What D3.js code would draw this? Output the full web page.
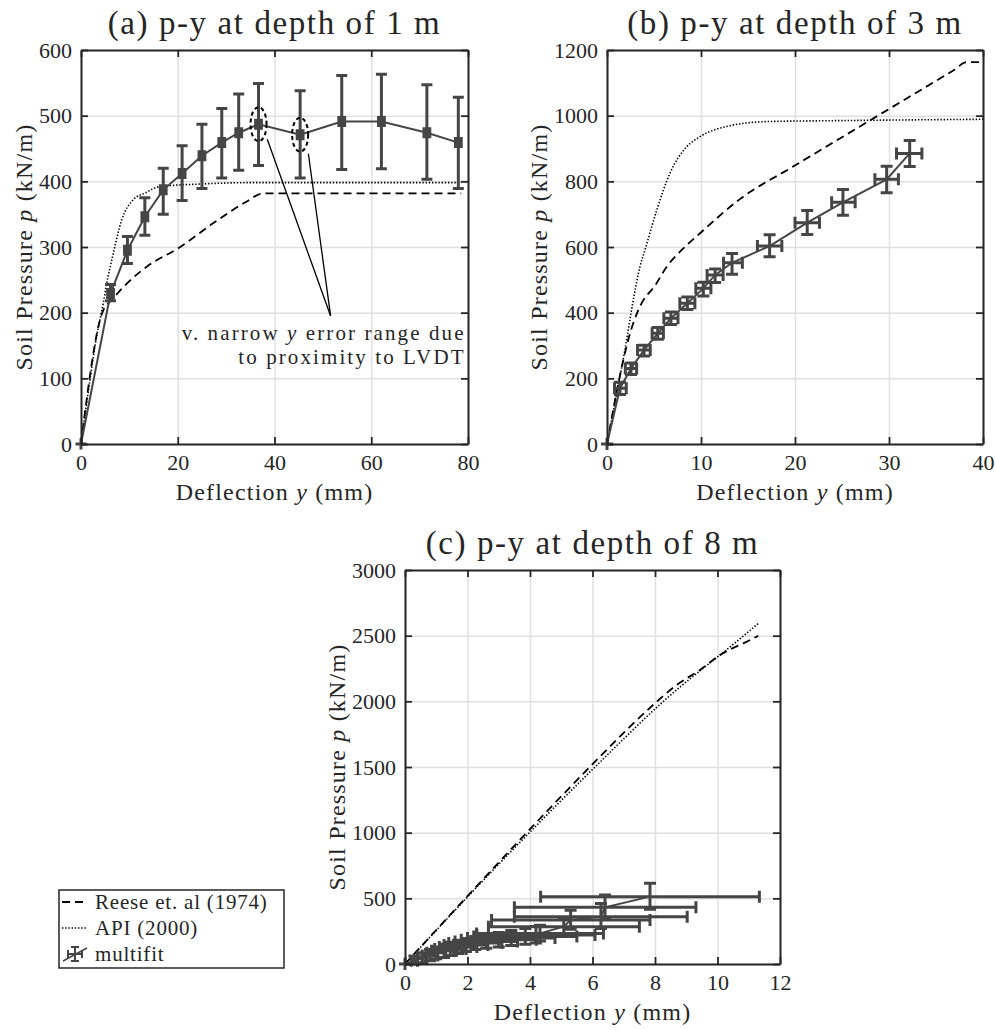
<!DOCTYPE html>
<html>
<head>
<meta charset="utf-8">
<script src="https://cdn.jsdelivr.net/npm/d3@7"></script>
<style>
  body { margin: 0; background: #fff; }
  svg text { font-family: "Liberation Serif", "Times New Roman", serif; fill: #262626; }
</style>
</head>
<body>
<div id="chart"></div>
<script>
// ---- data ----

// (a) depth 1 m
const aXTicks = [0, 20, 40, 60, 80];
const aYTicks = [0, 100, 200, 300, 400, 500, 600];
const aReeseX = [0, 4.4, 6.7, 10, 13.6, 20.5, 27.3, 34.2, 37.7, 78.6];
const aReeseP = [0, 200, 222, 248, 270, 300, 336, 369, 381.7, 381.7];
const aApiX = [0, 1.9, 3.2, 4.6, 5.2, 6.7, 8.4, 10.8, 13.2, 16.3, 25, 35, 78.6];
const aApiP = [0, 100, 163, 214, 240, 291, 341, 372, 382, 392, 396, 398, 398];
const aFitX = [0, 6.1, 9.6, 13.2, 17.0, 20.9, 25.0, 29.1, 32.6, 36.7, 45.3, 53.9, 62.1, 71.5, 78.0];
const aFitP = [0, 229, 295, 346, 387, 412, 439, 459, 474, 487, 471, 491, 491, 474, 459];
const aFitPLo = [0, 218, 275, 318, 350, 371, 389, 405, 417, 424, 405, 418, 419, 403, 389];
const aFitPHi = [0, 243, 316, 375, 420, 454, 487, 511, 533, 549, 538, 561, 563, 547, 528];
const aFitXLo = [0, 5.5, 9.0, 12.6, 16.4, 20.3, 24.4, 28.5, 32.0, 36.1, 44.7, 53.3, 61.5, 70.9, 77.4];
const aFitXHi = [0, 6.7, 10.2, 13.8, 17.6, 21.5, 25.6, 29.7, 33.2, 37.3, 45.9, 54.5, 62.7, 72.1, 78.6];

// (b) depth 3 m
const bXTicks = [0, 10, 20, 30, 40];
const bYTicks = [0, 200, 400, 600, 800, 1000, 1200];
const bReeseX = [0, 1.74, 2.45, 3.33, 5.28, 6.35, 7.95, 9.9, 14.1, 19.8, 24.1, 29.4, 36.8, 38.3, 40];
const bReeseP = [0, 256, 337, 408, 490, 540, 591, 642, 745, 845, 919, 1010, 1137, 1163, 1163];
const bApiX = [0, 1.03, 1.9, 2.8, 3.5, 4.04, 5.3, 6.7, 8.5, 9.9, 12.7, 17, 25, 40];
const bApiP = [0, 154, 286, 439, 540, 591, 713, 825, 906, 936, 967, 982, 985, 989];
const bFitX = [0, 1.38, 2.55, 3.94, 5.4, 6.8, 8.55, 10.25, 11.5, 13.3, 17.3, 21.3, 25.1, 29.75, 32.2];
const bFitP = [0, 170, 230, 286, 337, 383, 429, 474, 515, 552, 603, 674, 736, 806, 885];
const bFitXLo = [0, 0.8, 1.95, 3.25, 4.8, 6.05, 7.75, 9.45, 10.65, 12.4, 16.0, 20.0, 23.9, 28.5, 30.8];
const bFitXHi = [0, 2.05, 3.15, 4.6, 6.0, 7.55, 9.35, 11.05, 12.35, 14.4, 18.6, 22.6, 26.4, 31.0, 33.5];
const bFitPLo = [0, 151, 212, 268, 319, 364, 410, 451, 492, 517, 570, 638, 697, 765, 845];
const bFitPHi = [0, 188, 247, 301, 355, 402, 448, 493, 533, 580, 637, 711, 775, 846, 924];

// (c) depth 8 m
const cXTicks = [0, 2, 4, 6, 8, 10, 12];
const cYTicks = [0, 500, 1000, 1500, 2000, 2500, 3000];
const cReeseX = [0, 6.24, 7.09, 8.0, 8.69, 9.44, 10.08, 10.93, 11.3];
const cReeseP = [0, 1579, 1782, 1985, 2124, 2239, 2353, 2454, 2498];
const cApiX = [0, 3, 6.08, 8.27, 10.84, 11.34];
const cApiP = [0, 760, 1500, 2000, 2500, 2600];
const cFitX = [0, 0.3, 0.55, 0.8, 1.0, 1.25, 1.45, 1.7, 1.95, 2.25, 2.6, 3.0, 3.4, 3.85, 4.19, 4.32, 5.08, 5.3, 6.27, 6.4, 7.84];
const cFitP = [0, 25, 45, 65, 85, 100, 115, 130, 145, 160, 172, 185, 198, 210, 221, 233, 284, 335, 360, 432, 513];
const cFitXLo = [0, 0.2, 0.4, 0.55, 0.7, 0.85, 0.95, 1.1, 1.25, 1.4, 1.6, 1.8, 2.0, 2.2, 2.3, 2.29, 2.67, 2.77, 3.5, 3.5, 4.34];
const cFitXHi = [0, 0.4, 0.7, 1.05, 1.3, 1.65, 1.95, 2.3, 2.65, 3.1, 3.6, 4.2, 4.8, 5.5, 6.08, 6.35, 7.5, 7.84, 9.03, 9.31, 11.34];
const cFitPLo = [0, 0, 10, 25, 40, 50, 65, 80, 95, 110, 120, 130, 140, 150, 160, 175, 215, 265, 270, 340, 416];
const cFitPHi = [0, 60, 85, 110, 130, 150, 165, 180, 195, 210, 225, 240, 255, 270, 285, 295, 350, 410, 460, 525, 615];

// ---- drawing ----
const width = 995, height = 1030;
const serif = '"Liberation Serif", "Times New Roman", serif';
const svg = d3.select("#chart").append("svg")
  .attr("width", width)
  .attr("height", height)
  .style("font-family", serif);
svg.append("rect").attr("width", width).attr("height", height).attr("fill", "#fff");

const fitColor = "#454545";

function drawPanel(o) {
  const g = svg.append("g");
  const x = d3.scaleLinear().domain(o.xDomain).range([o.left, o.right]);
  const y = d3.scaleLinear().domain(o.yDomain).range([o.bottom, o.top]);
  const w = o.right - o.left, h = o.bottom - o.top;

  // grid
  g.append("g")
    .attr("transform", `translate(0,${o.bottom})`)
    .call(d3.axisBottom(x).tickValues(o.xTicks).tickSize(-h).tickFormat(""))
    .call(s => s.select(".domain").remove())
    .selectAll("line").attr("stroke", "#e0e0e0").attr("stroke-width", 1.5);
  g.append("g")
    .attr("transform", `translate(${o.left},0)`)
    .call(d3.axisLeft(y).tickValues(o.yTicks).tickSize(-w).tickFormat(""))
    .call(s => s.select(".domain").remove())
    .selectAll("line").attr("stroke", "#e0e0e0").attr("stroke-width", 1.5);

  const line = d3.line().x(d => x(d[0])).y(d => y(d[1])).curve(d3.curveMonotoneX);

  // Reese (dashed)
  g.append("path")
    .datum(d3.zip(o.reeseX, o.reeseP))
    .attr("fill", "none").attr("stroke", "#000")
    .attr("stroke-width", 1.8).attr("stroke-dasharray", "8,5")
    .attr("d", line);

  // API (dotted)
  g.append("path")
    .datum(d3.zip(o.apiX, o.apiP))
    .attr("fill", "none").attr("stroke", "#000")
    .attr("stroke-width", 1.6).attr("stroke-dasharray", "1.4,1.8")
    .attr("d", line);

  // multifit line
  line.curve(d3.curveLinear);
  g.append("path")
    .datum(d3.zip(o.fitX, o.fitP))
    .attr("fill", "none").attr("stroke", fitColor)
    .attr("stroke-width", 2)
    .attr("d", line);

  // error bars
  const cap = o.cap / 2;
  const eb = g.append("g").attr("stroke", fitColor).attr("stroke-width", 3).attr("fill", "none");
  o.fitX.forEach((xv, i) => {
    const cx = x(xv), cy = y(o.fitP[i]);
    const yl = y(o.fitPLo[i]), yh = y(o.fitPHi[i]);
    const xl = x(o.fitXLo[i]), xh = x(o.fitXHi[i]);
    eb.append("path").attr("d",
      `M${cx},${yl}V${yh}` +
      `M${cx - cap},${yl}H${cx + cap}M${cx - cap},${yh}H${cx + cap}` +
      `M${xl},${cy}H${xh}` +
      `M${xl},${cy - cap}V${cy + cap}M${xh},${cy - cap}V${cy + cap}`);
  });

  // frame and ticks
  const fmt = d3.format("d");
  const ax = g.append("g").attr("class", "axes");
  ax.append("g").attr("transform", `translate(0,${o.bottom})`)
    .call(d3.axisBottom(x).tickValues(o.xTicks).tickFormat(fmt).tickSize(-7).tickSizeOuter(0).tickPadding(10));
  ax.append("g").attr("transform", `translate(0,${o.top})`)
    .call(d3.axisTop(x).tickValues(o.xTicks).tickSize(-7).tickSizeOuter(0).tickFormat(""));
  ax.append("g").attr("transform", `translate(${o.left},0)`)
    .call(d3.axisLeft(y).tickValues(o.yTicks).tickFormat(fmt).tickSize(-7).tickSizeOuter(0).tickPadding(9));
  ax.append("g").attr("transform", `translate(${o.right},0)`)
    .call(d3.axisRight(y).tickValues(o.yTicks).tickSize(-7).tickSizeOuter(0).tickFormat(""));
  ax.selectAll("g").attr("font-family", serif);
  ax.selectAll("path.domain").attr("stroke", "#262626").attr("stroke-width", 2);
  ax.selectAll(".tick line").attr("stroke", "#262626").attr("stroke-width", 1.8);
  ax.selectAll(".tick text").attr("font-size", 22).attr("fill", "#262626")
    .style("font-family", serif);

  // title
  g.append("text")
    .attr("x", (o.left + o.right) / 2).attr("y", o.top - 16)
    .attr("text-anchor", "middle").attr("font-size", 33)
    .attr("letter-spacing", 1.6)
    .style("font-family", serif)
    .text(o.title);

  // x label
  const xl = g.append("text")
    .attr("x", (o.left + o.right) / 2).attr("y", o.bottom + 56)
    .attr("text-anchor", "middle").attr("font-size", 24).attr("letter-spacing", 1.2)
    .style("font-family", serif);
  xl.append("tspan").text("Deflection ");
  xl.append("tspan").attr("font-style", "italic").text("y");
  xl.append("tspan").text(" (mm)");

  // y label
  const yl = g.append("text")
    .attr("transform", `translate(${o.yLabelX},${(o.top + o.bottom) / 2}) rotate(-90)`)
    .attr("text-anchor", "middle").attr("font-size", 24).attr("letter-spacing", 1.2)
    .style("font-family", serif);
  yl.append("tspan").text("Soil Pressure ");
  yl.append("tspan").attr("font-style", "italic").text("p");
  yl.append("tspan").text(" (kN/m)");

  return { g, x, y };
}

const pa = drawPanel({
  left: 81, right: 468, top: 50, bottom: 444,
  xDomain: [0, 80], yDomain: [0, 600], xTicks: aXTicks, yTicks: aYTicks,
  reeseX: aReeseX, reeseP: aReeseP, apiX: aApiX, apiP: aApiP,
  fitX: aFitX, fitP: aFitP, fitXLo: aFitXLo, fitXHi: aFitXHi, fitPLo: aFitPLo, fitPHi: aFitPHi,
  cap: 11, title: "(a) p-y at depth of 1 m", yLabelX: 32
});

drawPanel({
  left: 607, right: 983, top: 50, bottom: 444,
  xDomain: [0, 40], yDomain: [0, 1200], xTicks: bXTicks, yTicks: bYTicks,
  reeseX: bReeseX, reeseP: bReeseP, apiX: bApiX, apiP: bApiP,
  fitX: bFitX, fitP: bFitP, fitXLo: bFitXLo, fitXHi: bFitXHi, fitPLo: bFitPLo, fitPHi: bFitPHi,
  cap: 12, title: "(b) p-y at depth of 3 m", yLabelX: 547
});

drawPanel({
  left: 405, right: 780, top: 570, bottom: 964,
  xDomain: [0, 12], yDomain: [0, 3000], xTicks: cXTicks, yTicks: cYTicks,
  reeseX: cReeseX, reeseP: cReeseP, apiX: cApiX, apiP: cApiP,
  fitX: cFitX, fitP: cFitP, fitXLo: cFitXLo, fitXHi: cFitXHi, fitPLo: cFitPLo, fitPHi: cFitPHi,
  cap: 12, title: "(c) p-y at depth of 8 m", yLabelX: 345
});

// annotation in (a): circled points and lines to the note
const noteIdx = [9, 10];
const noteEnd = [51.6, 195];
const noteStart = [[38.5, 464], [47.0, 442]];
noteIdx.forEach(i => {
  pa.g.append("ellipse")
    .attr("cx", pa.x(aFitX[i])).attr("cy", pa.y(aFitP[i]))
    .attr("rx", 8).attr("ry", 17)
    .attr("fill", "none").attr("stroke", "#000")
    .attr("stroke-width", 2).attr("stroke-dasharray", "4,3");
});
noteStart.forEach(s => {
  pa.g.append("line")
    .attr("x1", pa.x(s[0])).attr("y1", pa.y(s[1]))
    .attr("x2", pa.x(noteEnd[0])).attr("y2", pa.y(noteEnd[1]))
    .attr("stroke", "#000").attr("stroke-width", 1.3);
});
const noteLines = ["v. narrow ", "to proximity to LVDT"];
const note = pa.g.append("text")
  .attr("text-anchor", "end").attr("font-size", 21).attr("letter-spacing", 2.1)
  .style("font-family", serif);
const t1 = note.append("tspan").attr("x", pa.x(79.5)).attr("y", pa.y(158));
t1.append("tspan").text(noteLines[0]);
t1.append("tspan").attr("font-style", "italic").text("y");
t1.append("tspan").text(" error range due");
note.append("tspan").attr("x", pa.x(79.5)).attr("y", pa.y(122)).text(noteLines[1]);

// legend
const legendNames = ["Reese et. al (1974)", "API (2000)", "multifit"];
const lg = svg.append("g").attr("transform", "translate(59,890)");
lg.append("rect").attr("width", 225).attr("height", 78)
  .attr("fill", "#fff").attr("stroke", "#262626").attr("stroke-width", 1.5);
legendNames.forEach((name, i) => {
  const cy = 12 + i * 26;
  if (i === 0) {
    lg.append("line").attr("x1", 3).attr("x2", 28).attr("y1", cy).attr("y2", cy)
      .attr("stroke", "#000").attr("stroke-width", 1.8).attr("stroke-dasharray", "8,5");
  } else if (i === 1) {
    lg.append("line").attr("x1", 3).attr("x2", 28).attr("y1", cy).attr("y2", cy)
      .attr("stroke", "#000").attr("stroke-width", 1.6).attr("stroke-dasharray", "1.4,1.8");
  } else {
    lg.append("line").attr("x1", 4).attr("x2", 28).attr("y1", cy + 7).attr("y2", cy - 6)
      .attr("stroke", fitColor).attr("stroke-width", 1.5);
    lg.append("path")
      .attr("d", `M16,${cy - 7}V${cy + 7}M12,${cy - 7}H20M12,${cy + 7}H20M9,${cy}H23M9,${cy - 4}V${cy + 4}M23,${cy - 4}V${cy + 4}`)
      .attr("stroke", fitColor).attr("stroke-width", 2).attr("fill", "none");
  }
  lg.append("text").attr("x", 36).attr("y", cy + 7)
    .attr("font-size", 21).attr("letter-spacing", 0.8)
    .style("font-family", serif)
    .text(name);
});
</script>
</body>
</html>
